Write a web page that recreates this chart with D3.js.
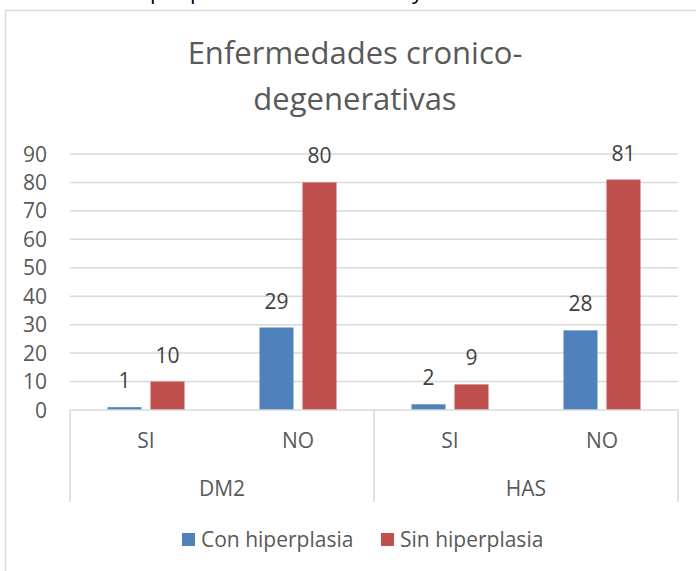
<!DOCTYPE html>
<html>
<head>
<meta charset="utf-8">
<script src="https://cdn.jsdelivr.net/npm/d3@7"></script>
<style>
  body { margin: 0; background: #fff; }
  svg { display: block; font-family: 'Open Sans', sans-serif; }
</style>
</head>
<body>
<div id="chart"></div>
<script>
// data
const groups = ['DM2', 'HAS'];
const categories = ['SI', 'NO', 'SI', 'NO'];
const series = ['Con hiperplasia', 'Sin hiperplasia'];
const conValues = [1, 29, 2, 28];
const sinValues = [10, 80, 9, 81];
const yTicks = [0, 10, 20, 30, 40, 50, 60, 70, 80, 90];
const colors = ['#4f81bd', '#c0504d'];

const W = 696, H = 571;
const plot = { left: 70, right: 678, top: 154, bottom: 410 };

const svg = d3.select('#chart').append('svg')
  .attr('width', W)
  .attr('height', H);

// bit of document text cut off above the chart
const cut = svg.append('text')
  .attr('y', -1)
  .style('font-size', '22px')
  .style('fill', '#000');
cut.append('tspan').attr('x', 150).text('p');
cut.append('tspan').attr('x', 190).text('p');
cut.append('tspan').attr('x', 412).text('y');

// chart frame
svg.append('path')
  .attr('d', `M5.5,${H} V10.5 H${W + 5}`)
  .attr('fill', 'none')
  .attr('stroke', '#d9d9d9')
  .attr('stroke-width', 1.5);

// title
const title = svg.append('text')
  .attr('text-anchor', 'middle')
  .style('font-size', '31px')
  .style('fill', '#595959');
title.append('tspan').attr('x', 355).attr('y', 64).text('Enfermedades cronico-');
title.append('tspan').attr('x', 355).attr('y', 110).text('degenerativas');

// scales
const xScale = d3.scaleBand()
  .domain(d3.range(categories.length))
  .range([plot.left, plot.right]);

const xInner = d3.scaleBand()
  .domain(series)
  .range([0, xScale.bandwidth()])
  .paddingInner(0.209)
  .paddingOuter(0.872);

const yScale = d3.scaleLinear()
  .domain([0, 90])
  .range([plot.bottom, plot.top]);

// grid lines
svg.append('g')
  .selectAll('line')
  .data(yTicks.slice(1))
  .join('line')
  .attr('x1', plot.left)
  .attr('x2', plot.right)
  .attr('y1', d => yScale(d))
  .attr('y2', d => yScale(d))
  .attr('stroke', '#d9d9d9')
  .attr('stroke-width', 1.5);

// y tick labels
svg.append('g')
  .selectAll('text')
  .data(yTicks)
  .join('text')
  .attr('x', 47)
  .attr('y', d => yScale(d))
  .attr('dy', '0.36em')
  .attr('text-anchor', 'end')
  .style('font-size', '21px')
  .style('fill', '#595959')
  .text(d => d);

// bars
const rows = categories.map((c, i) => ({ i, values: [conValues[i], sinValues[i]] }));

const groupG = svg.append('g')
  .selectAll('g')
  .data(rows)
  .join('g')
  .attr('transform', d => `translate(${xScale(d.i)},0)`);

groupG.selectAll('rect')
  .data(d => d.values.map((v, k) => ({ v, k })))
  .join('rect')
  .attr('x', d => xInner(series[d.k]))
  .attr('y', d => yScale(d.v))
  .attr('width', xInner.bandwidth())
  .attr('height', d => yScale(0) - yScale(d.v))
  .attr('fill', d => colors[d.k]);

// value labels
groupG.selectAll('text')
  .data(d => d.values.map((v, k) => ({ v, k })))
  .join('text')
  .attr('x', d => xInner(series[d.k]) + xInner.bandwidth() / 2)
  .attr('y', d => yScale(d.v) - 19)
  .attr('text-anchor', 'middle')
  .style('font-size', '21px')
  .style('fill', '#404040')
  .text(d => d.v);

// x axis line and group separators
svg.append('line')
  .attr('x1', plot.left)
  .attr('x2', plot.right)
  .attr('y1', plot.bottom)
  .attr('y2', plot.bottom)
  .attr('stroke', '#d9d9d9')
  .attr('stroke-width', 1.5);

const sepX = [0, 2, 4].map(i => i < categories.length ? xScale(i) : plot.right);
svg.append('g')
  .selectAll('line')
  .data(sepX)
  .join('line')
  .attr('x1', d => d)
  .attr('x2', d => d)
  .attr('y1', plot.bottom)
  .attr('y2', 502)
  .attr('stroke', '#d9d9d9')
  .attr('stroke-width', 1.5);

// category labels
svg.append('g')
  .selectAll('text')
  .data(categories)
  .join('text')
  .attr('x', (d, i) => xScale(i) + xScale.bandwidth() / 2)
  .attr('y', 448)
  .attr('text-anchor', 'middle')
  .style('font-size', '21px')
  .style('fill', '#595959')
  .text(d => d);

// group labels
svg.append('g')
  .selectAll('text')
  .data(groups)
  .join('text')
  .attr('x', (d, i) => xScale(i * 2) + xScale.bandwidth())
  .attr('y', 496)
  .attr('text-anchor', 'middle')
  .style('font-size', '21px')
  .style('fill', '#595959')
  .text(d => d);

// legend
const legendX = [182, 381];
const legend = svg.append('g')
  .selectAll('g')
  .data(series)
  .join('g')
  .attr('transform', (d, i) => `translate(${legendX[i]},533)`);

legend.append('rect')
  .attr('width', 13)
  .attr('height', 13)
  .attr('fill', (d, i) => colors[i]);

legend.append('text')
  .attr('x', 19)
  .attr('y', 14)
  .style('font-size', '21px')
  .style('fill', '#595959')
  .text(d => d);
</script>
</body>
</html>
